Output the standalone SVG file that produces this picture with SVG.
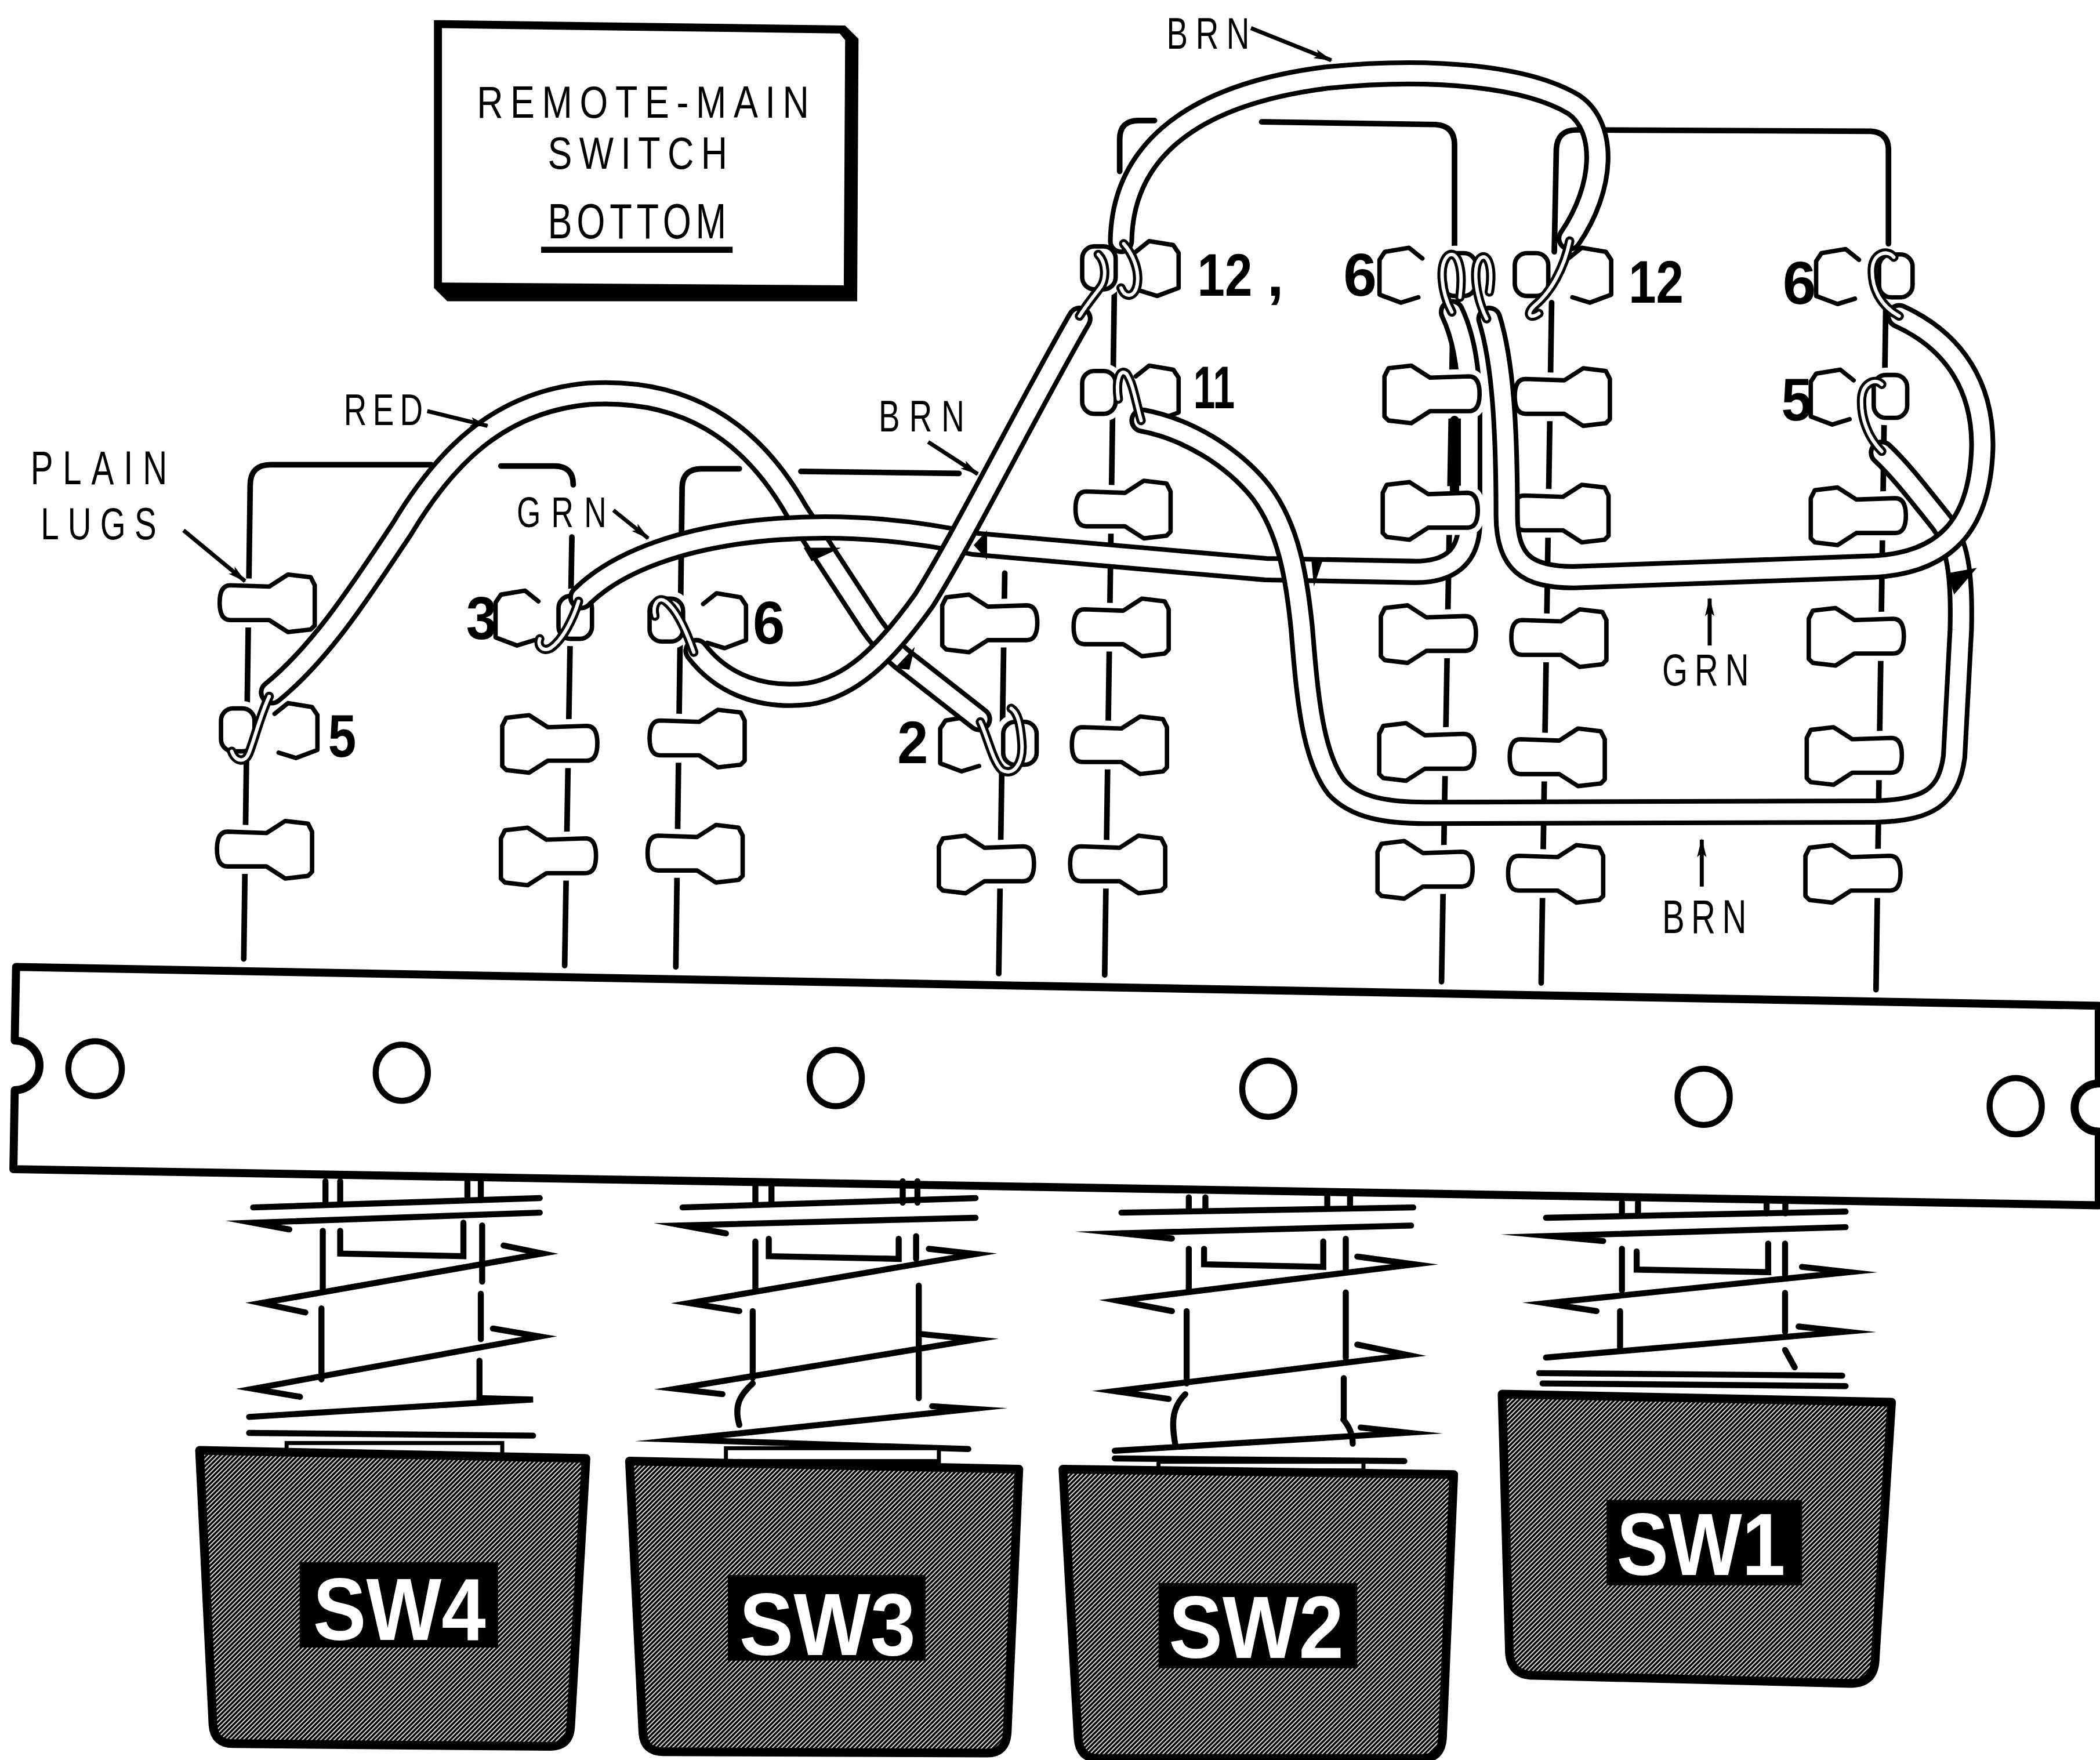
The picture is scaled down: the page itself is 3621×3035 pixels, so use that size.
<svg xmlns="http://www.w3.org/2000/svg" width="3621" height="3035" viewBox="0 0 3621 3035">
<defs>
<style>
.ln{fill:none;stroke:#000;stroke-width:4.2;stroke-linecap:round;stroke-linejoin:round}
.halo{fill:#fff;stroke:#fff;stroke-width:11;stroke-linejoin:round}
.lo{fill:#fff;stroke:#000;stroke-width:3.3;stroke-linejoin:round}
.lf{fill:none;stroke:#000;stroke-width:3.3;stroke-linejoin:round;stroke-linecap:round}
.tb{fill:none;stroke:#000;stroke-width:19.5;stroke-linecap:round;stroke-linejoin:round}
.tw{fill:none;stroke:#fff;stroke-width:12.5;stroke-linecap:round;stroke-linejoin:round}
.hb{fill:none;stroke:#000;stroke-width:7;stroke-linecap:round;stroke-linejoin:round}
.hw{fill:none;stroke:#fff;stroke-width:2.6;stroke-linecap:round;stroke-linejoin:round}
.sp{fill:none;stroke:#000;stroke-width:4.5;stroke-linecap:round;stroke-linejoin:miter;stroke-miterlimit:20}
.plate{fill:#fff;stroke:#000;stroke-width:3}
.key{fill:url(#hatch);stroke:#000;stroke-width:6.5;stroke-linejoin:round}
.tag{fill:#000}
.tagt{fill:#fff;font-family:"Liberation Sans",Arial,sans-serif;font-weight:bold;font-size:66px}
.lbl{font-family:"Liberation Sans",Arial,sans-serif;fill:#000}
.num{font-family:"Liberation Sans",Arial,sans-serif;font-weight:bold;font-size:45px;fill:#000}
.arr{fill:none;stroke:#000;stroke-width:3;marker-end:url(#ah)}
.bar{fill:#fff;stroke:#000;stroke-width:6;stroke-linejoin:round}
.hole{fill:#fff;stroke:#000;stroke-width:4.5}
.dk{fill:#000}
</style>
<pattern id="hatch" patternUnits="userSpaceOnUse" width="3.4" height="3.4">
<rect width="3.4" height="3.4" fill="#fff"/>
<path d="M-0.85,0.85 L0.85,-0.85 M0,3.4 L3.4,0 M2.55,4.25 L4.25,2.55" stroke="#000" stroke-width="1.6"/>
</pattern>
<marker id="ah" viewBox="0 0 14 8" refX="13" refY="4" markerWidth="14" markerHeight="8" markerUnits="userSpaceOnUse" orient="auto">
<path d="M0,0.5 L14,4 L0,7.5 L3,4 Z" fill="#000"/>
</marker>
<!-- solder lug: barrel at origin, flare toward +x -->
<path id="lugP" d="M8,-13 L37,-12 L51,-21 L68,-19 L71,-13 L71,17 L68,20 L51,22 L37,13 L8,13 Q0,13 0,0 Q0,-13 8,-13 Z"/>
<g id="lug"><use href="#lugP" class="halo"/><use href="#lugP" class="lo"/></g>
<!-- numbered lug with wire wrapped on it -->
<rect id="nbar" x="0" y="-16" width="25" height="32" rx="9"/>
<path id="nfl" d="M40,-12 L50,-20 L68,-17 L72,-11 L72,15 L56,21 L43,17"/>
<g id="nlug"><use href="#nbar" class="halo"/><use href="#nfl" class="halo"/><use href="#nbar" class="lo"/><use href="#nfl" class="lf"/></g>
<!-- wire runs -->
<path id="wRed" d="M203,517 C240,487 270,440 300,395 C330,345 370,300 440,294 C510,290 560,320 595,382 L650,466 Q663,485 680,497 L731,537"/>
<path id="wGrn1" d="M434,446 C460,420 510,400 582,395 C640,391 690,398 727,406 L945,425 L1055,427 Q1097,428 1097,390 L1097,300 Q1096,258 1084,233"/>
<path id="wBrnMid" d="M520,486 C540,512 570,522 604,518 C635,513 660,490 690,448 C720,400 770,300 806,238"/>
<path id="wBrnLoop" d="M853,314 C885,320 920,340 942,368 C962,395 968,430 972,470 C976,520 980,565 998,588 C1012,603 1035,607 1065,607 L1400,606 C1440,605 1455,595 1459,565 L1464,470 C1465,430 1462,405 1448,388 C1435,372 1420,352 1405,338"/>
<path id="wGrn2" d="M1112,238 C1122,270 1125,320 1125,385 C1125,420 1140,431 1175,431 L1400,423 C1450,420 1478,395 1480,335 C1481,290 1460,255 1418,236"/>
<path id="wBrnArc" d="M837,180 C838,120 880,72 990,58 C1070,50 1140,57 1175,78 C1200,95 1198,140 1172,178"/>
<!-- bare leads hooked onto lugs -->
<path id="hA5" d="M201,520 C194,535 190,552 186,562 C183,570 176,569 173,561"/>
<path id="hB3" d="M432,449 C428,462 420,478 411,484 C405,487 401,482 403,477"/>
<path id="hC6" d="M518,487 C512,470 505,455 497,449 C491,445 487,452 489,460"/>
<path id="hD2" d="M732,539 C738,552 741,568 748,575 C757,580 764,570 763,555 C762,541 760,532 755,529"/>
<path id="hE12a" d="M806,236 C811,228 816,222 822,214 C826,208 826,196 820,190"/>
<path id="hE12b" d="M839,182 C846,190 851,202 849,213 C847,222 840,223 837,215"/>
<path id="hE11" d="M852,314 C848,300 846,286 841,279 C836,275 833,284 835,298"/>
<path id="hF6a" d="M1084,233 C1076,218 1074,198 1081,191 C1088,186 1093,200 1090,222"/>
<path id="hF6b" d="M1110,238 C1102,222 1099,200 1105,193 C1111,188 1115,200 1112,218"/>
<path id="hG12" d="M1172,180 C1168,200 1158,218 1146,228 C1139,234 1142,239 1149,234"/>
<path id="hH6" d="M1418,236 C1405,229 1397,216 1398,200 C1399,189 1409,186 1414,192"/>
<path id="hH5" d="M1405,337 C1395,327 1389,312 1390,297 C1391,286 1400,282 1405,287"/>
</defs>
<rect width="3621" height="3035" fill="#fff"/>
<g transform="scale(2.3094)">

<!-- caption box -->
<g id="title">
<path d="M324,15 L631,19 L641,29 L640,225 L334,225 L324,215 Z" fill="#000"/>
<path d="M330,21 L627,25 L631,30 L630,213 L330,211 Z" fill="#fff"/>
<text class="lbl" font-size="34" transform="translate(356,88) scale(0.8,1)" textLength="310">REMOTE-MAIN</text>
<text class="lbl" font-size="34" transform="translate(409,126) scale(0.8,1)" textLength="167.5">SWITCH</text>
<text class="lbl" font-size="37" transform="translate(409,178) scale(0.74,1)" textLength="180">BOTTOM</text>
<path d="M404,186.5 L547,186.5" stroke="#000" stroke-width="4.5"/>
</g>

<!-- mounting bar -->
<g id="bar">
<path class="bar" d="M12,722 L1567,751 L1567,809 A18,18 0 0 0 1567,845 L1567,900 L10,873 L11,814 A18.5,18.5 0 0 0 11,777 Z"/>
<ellipse class="hole" cx="71" cy="798" rx="20" ry="20.5"/>
<ellipse class="hole" cx="300" cy="801" rx="19.5" ry="21"/>
<ellipse class="hole" cx="624" cy="805" rx="19.5" ry="21"/>
<ellipse class="hole" cx="947" cy="813" rx="19.5" ry="21"/>
<ellipse class="hole" cx="1272" cy="819" rx="19.5" ry="21"/>
<ellipse class="hole" cx="1505" cy="826" rx="19.5" ry="21"/>
</g>

<!-- push switches -->
<g id="sw4">
<g class="sp">
<path d="M243,882 L243,897 M254,882 L254,897 M349,882 L349,896 M359,882 L359,896"/>
<path d="M241,919 L241,963 M240,977 L240,1030 M360,915 L360,957 M359,966 L359,1000 M358,1016 L358,1047"/>
<path d="M254,919 L254,936 L346,938 L346,913"/>
<path d="M189,901.6 L403,894.6"/>
<path d="M216,918 L189,913 L403,905.5"/>
<path d="M376,930 L405,936 L195,973 L228,980"/>
<path d="M368,992 L403,998 L189,1037 L224,1043"/>
<path d="M358,1044 L398,1045 L186,1058"/>
<path d="M186,1070 L398,1072"/>
</g>
<rect class="plate" x="214" y="1077.5" width="161" height="9.5"/>
<path class="key" d="M149,1083 L437.5,1089 L426,1290 Q425,1304 411,1304 L174,1302 Q160,1302 159,1288 Z"/>
<rect class="tag" x="223.7" y="1166.4" width="148.2" height="63.8"/>
<text class="tagt" x="233.7" y="1224.5" textLength="129" lengthAdjust="spacingAndGlyphs">SW4</text>
</g>

<g id="sw3">
<g class="sp">
<path d="M564,882 L564,898 M576,882 L576,898 M674,882 L674,898 M685,882 L685,898"/>
<path d="M564,927 L564,963 M562,979 L562,1029 M684,923 L684,940 M686,960 L686,1044"/>
<path d="M574,925 L574,938 L671,940 L671,925"/>
<path d="M509.6,901.6 L728.4,894.6"/>
<path d="M542,921 L509.6,915 L728.4,909.3"/>
<path d="M693.5,932.5 L728.4,936.4 L514.6,973 L552,979"/>
<path d="M686,996 L728.4,1000.2 L504.6,1037 L539.4,1041"/>
<path d="M696,1050 L726,1052 L507,1075 L723,1082"/>
<path d="M562,1033 C552,1042 548,1050 552,1064"/>
</g>
<rect class="plate" x="542" y="1081.4" width="159" height="9.6"/>
<path class="key" d="M470,1091 L760.7,1097 L752,1294 Q751,1309 737,1309 L495,1308 Q481,1308 480,1294 Z"/>
<rect class="tag" x="543.4" y="1176" width="147.6" height="64"/>
<text class="tagt" x="552" y="1236" textLength="131.7" lengthAdjust="spacingAndGlyphs">SW3</text>
</g>

<g id="sw2">
<g class="sp">
<path d="M887.6,894 L887.6,904 M900,894 L900,904 M991,892 L991,902 M1008,892 L1008,902"/>
<path d="M887.6,932.5 L887.6,963.5 M886,979 L886,1033 M1004.8,925 L1004.8,948 M1004.8,965 L1004.8,1014 M1003.3,1029 L1003.3,1060"/>
<path d="M899,932.5 L899,944 L988,946 L988,927"/>
<path d="M837.3,905.5 L1055.2,901.6"/>
<path d="M875,924.8 L837.3,920.9 L1053.6,915.1"/>
<path d="M1013.4,938.3 L1056.2,944.1 L834.8,971.2 L875,979"/>
<path d="M1013.4,1004 L1051.1,1011.8 L832.3,1038.8 L872.6,1044.6"/>
<path d="M1015.9,1065.9 L1051.1,1069.8 L832.3,1083.3"/>
<path d="M832.3,1089 L1048.6,1091"/>
<path d="M885,1041 C876,1050 874,1060 877.6,1079 M1003,1060 C1008,1066 1010,1072 1010,1078"/>
</g>
<rect class="plate" x="865" y="1091.5" width="153" height="6.5"/>
<path class="key" d="M793.6,1097 L1085.4,1101 L1077,1298 Q1076,1313 1062,1313 L820,1313 Q806,1313 805,1298 Z"/>
<rect class="tag" x="865" y="1182" width="148.4" height="63.7"/>
<text class="tagt" x="872.6" y="1238" textLength="130.7" lengthAdjust="spacingAndGlyphs">SW2</text>
</g>

<g id="sw1">
<g class="sp">
<path d="M1211,898 L1211,907 M1223,898 L1223,907 M1319,898 L1319,906 M1333,898 L1333,906"/>
<path d="M1211,932.5 L1211,963.5 M1209.6,979 L1209.6,1006 M1332.8,928.6 L1332.8,951.8 M1332.8,965.4 L1332.8,994.4 M1332.8,1008 L1340,1021"/>
<path d="M1222,934.4 L1222,948 L1320.2,949.9 L1320.2,928.6"/>
<path d="M1154.3,909.3 L1378,904.7"/>
<path d="M1197,926.7 L1156.8,922.9 L1378,916.3"/>
<path d="M1345.4,946 L1380.6,949.9 L1154.3,973.1 L1192,979"/>
<path d="M1342.9,990.5 L1378,994.4 L1154.3,1013.7"/>
<path d="M1149.2,1025.3 L1375.5,1027.2 M1151.7,1033 L1378,1035"/>
</g>
<path class="key" d="M1121.5,1041 L1412.3,1047 L1400,1240 Q1399,1257 1382,1257 L1145,1251 Q1128,1251 1127,1234 Z"/>
<rect class="tag" x="1199.5" y="1120" width="146" height="63.8"/>
<text class="tagt" x="1207" y="1176" textLength="126" lengthAdjust="spacingAndGlyphs">SW1</text>
</g>

<!-- terminal strips: lug rows and their mounting lines -->
<g id="strips" class="ln">
<path d="M322,347 L202,347 Q187,347 186.8,362 L182,716"/>
<path d="M374,348 L414,348 Q428,348 428,362"/>
<path d="M427,401 L421.6,721"/>
<path d="M552,350 L524,350 Q509.5,350 509.3,364 L504.6,722"/>
<path d="M598,352 L716,353.5"/>
<path d="M750.2,428 L745.7,727"/>
<path d="M862,90 L850,90 Q836,90 836,104 L836,128"/>
<path d="M832,218 L824.8,728"/>
<path d="M942,91 L1072,93 Q1086,94 1086,108 L1086,190"/>
<path d="M1085,226 L1076.3,733"/>
<path d="M1160.5,188 L1162,112 Q1162.5,97 1177,97 L1397,98 Q1410,99 1410,112 L1410,182"/>
<path d="M1158.5,226 L1150.7,734"/>
<path d="M1408,228 L1400.7,739"/>
</g>

<g id="lugs">
<use href="#lug" transform="translate(164,450)"/>
<use href="#lug" transform="translate(162,634)"/>
<use href="#lug" transform="translate(446,555) scale(-1,1)"/>
<use href="#lug" transform="translate(445,639) scale(-1,1)"/>
<use href="#lug" transform="translate(485,551)"/>
<use href="#lug" transform="translate(483.5,637)"/>
<use href="#lug" transform="translate(774.5,465) scale(-1,1)"/>
<use href="#lug" transform="translate(772,645) scale(-1,1)"/>
<use href="#lug" transform="translate(803,380)"/>
<use href="#lug" transform="translate(801.6,468)"/>
<use href="#lug" transform="translate(800.3,556)"/>
<use href="#lug" transform="translate(799,645)"/>
<use href="#lug" transform="translate(1102,473) scale(-1,1)"/>
<use href="#lug" transform="translate(1100.8,561) scale(-1,1)"/>
<use href="#lug" transform="translate(1099.5,649) scale(-1,1)"/>
<use href="#lug" transform="translate(1131,296)"/>
<use href="#lug" transform="translate(1130,383)"/>
<use href="#lug" transform="translate(1128.4,476)"/>
<use href="#lug" transform="translate(1127.2,565)"/>
<use href="#lug" transform="translate(1126,652)"/>
<use href="#lug" transform="translate(1423,385) scale(-1,1)"/>
<use href="#lug" transform="translate(1421.5,475) scale(-1,1)"/>
<use href="#lug" transform="translate(1420,564) scale(-1,1)"/>
<use href="#lug" transform="translate(1419,652) scale(-1,1)"/>
<use href="#nlug" transform="translate(165,545)"/>
<use href="#nlug" transform="translate(442,461) scale(-1,1)"/>
<use href="#nlug" transform="translate(485,463)"/>
<use href="#nlug" transform="translate(774,555) scale(-1,1)"/>
<use href="#nlug" transform="translate(808,200)"/>
<use href="#nlug" transform="translate(808,293)"/>
<use href="#nlug" transform="translate(1102,205) scale(-1,1)"/>
<use href="#nlug" transform="translate(1131,205)"/>
<use href="#nlug" transform="translate(1428,206) scale(-1,1)"/>
<use href="#nlug" transform="translate(1424,296) scale(-1,1)"/>
</g>

<!-- wiring -->
<g id="wires">
<g id="wire-red"><use href="#wRed" class="tb"/><use href="#wRed" class="tw"/></g>
<g id="wire-grn-a"><use href="#wGrn1" class="tb"/><use href="#wGrn1" class="tw"/></g>
<g id="lugs-f-upper">
<use href="#lug" transform="translate(1104.7,294) scale(-1,1)"/>
<use href="#lug" transform="translate(1103.4,381) scale(-1,1)"/>
</g>
<g id="wire-brn-a"><use href="#wBrnMid" class="tb"/><use href="#wBrnMid" class="tw"/></g>
<g id="wire-brn-b"><use href="#wBrnLoop" class="tb"/><use href="#wBrnLoop" class="tw"/></g>
<g id="wire-grn-b"><use href="#wGrn2" class="tb"/><use href="#wGrn2" class="tw"/></g>
<g id="wire-brn-c"><use href="#wBrnArc" class="tb"/><use href="#wBrnArc" class="tw"/></g>
<g id="leads">
<use href="#hA5" class="hb"/><use href="#hA5" class="hw"/>
<use href="#hB3" class="hb"/><use href="#hB3" class="hw"/>
<use href="#hC6" class="hb"/><use href="#hC6" class="hw"/>
<use href="#hD2" class="hb"/><use href="#hD2" class="hw"/>
<use href="#hE12a" class="hb"/><use href="#hE12a" class="hw"/>
<use href="#hE12b" class="hb"/><use href="#hE12b" class="hw"/>
<use href="#hE11" class="hb"/><use href="#hE11" class="hw"/>
<use href="#hF6a" class="hb"/><use href="#hF6a" class="hw"/>
<use href="#hF6b" class="hb"/><use href="#hF6b" class="hw"/>
<use href="#hG12" class="hb"/><use href="#hG12" class="hw"/>
<use href="#hH6" class="hb"/><use href="#hH6" class="hw"/>
<use href="#hH5" class="hb"/><use href="#hH5" class="hw"/>
</g>
<g id="crossings">
<path class="dk" d="M727,407 L737,396 L737,418 Z"/>
<path class="dk" d="M600,409 L628,409 L606,419 Z"/>
<path class="dk" d="M668,499 L683,483 L679,500 Z"/>
<path class="dk" d="M979,417 L988,417 L981,438 Z"/>
<path class="dk" d="M1454,428 L1476,424 L1459,444 Z"/>
<path d="M1086,314 L1086,366" stroke="#000" stroke-width="7" stroke-linecap="round"/>
</g>
</g>

<!-- lug numbers -->
<g id="lug-numbers">
<text class="num" x="245" y="565" textLength="21" lengthAdjust="spacingAndGlyphs">5</text>
<text class="num" x="348" y="477" textLength="23" lengthAdjust="spacingAndGlyphs">3</text>
<text class="num" x="562" y="480.5" textLength="24" lengthAdjust="spacingAndGlyphs">6</text>
<text class="num" x="670" y="570" textLength="23" lengthAdjust="spacingAndGlyphs">2</text>
<text class="num" x="894" y="221" textLength="41" lengthAdjust="spacingAndGlyphs">12</text>
<text class="num" x="946" y="221">,</text>
<text class="num" x="891" y="305" textLength="31" lengthAdjust="spacingAndGlyphs">11</text>
<text class="num" x="1003" y="221" textLength="25" lengthAdjust="spacingAndGlyphs">6</text>
<text class="num" x="1216" y="226" textLength="41" lengthAdjust="spacingAndGlyphs">12</text>
<text class="num" x="1331" y="227" textLength="25" lengthAdjust="spacingAndGlyphs">6</text>
<text class="num" x="1330" y="314" textLength="23" lengthAdjust="spacingAndGlyphs">5</text>
</g>

<!-- colour call-outs -->
<g id="callouts">
<text class="lbl" font-size="33" transform="translate(871,36.5) scale(0.72,1)" textLength="86">BRN</text>
<path class="arr" d="M934,21 L994,45"/>
<text class="lbl" font-size="33" transform="translate(256.7,317.5) scale(0.72,1)" textLength="82">RED</text>
<path class="arr" d="M319,307 L364,318"/>
<text class="lbl" font-size="35" transform="translate(22.8,361.6) scale(0.72,1)" textLength="141.7">PLAIN</text>
<text class="lbl" font-size="34" transform="translate(30.4,402.6) scale(0.72,1)" textLength="120">LUGS</text>
<path class="arr" d="M137,396 L183,434"/>
<text class="lbl" font-size="32" transform="translate(385.8,393.5) scale(0.72,1)" textLength="93">GRN</text>
<path class="arr" d="M458,381 L484,402"/>
<text class="lbl" font-size="33" transform="translate(656,322) scale(0.72,1)" textLength="89">BRN</text>
<path class="arr" d="M693,330 L730,354"/>
<text class="lbl" font-size="34" transform="translate(1241,512) scale(0.72,1)" textLength="90">GRN</text>
<path class="arr" d="M1276.5,482 L1276.5,447"/>
<text class="lbl" font-size="35" transform="translate(1241,696.7) scale(0.72,1)" textLength="87.5">BRN</text>
<path class="arr" d="M1270.6,662 L1270.6,627"/>
</g>

</g>
</svg>
